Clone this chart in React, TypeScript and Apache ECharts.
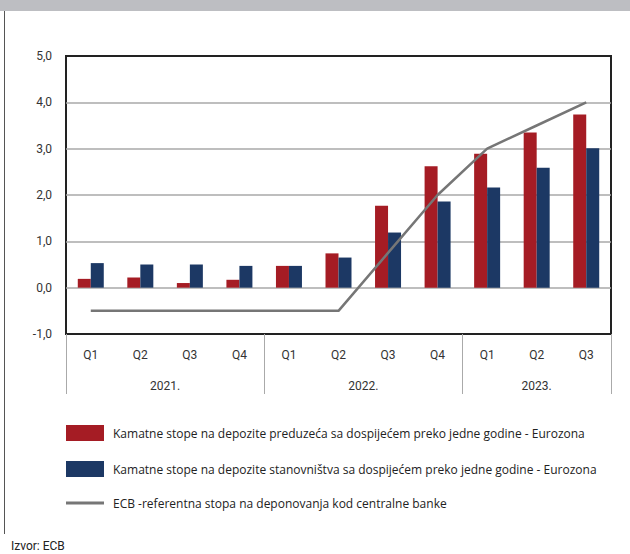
import React, { useEffect, useRef } from "react";
import * as echarts from "echarts";

const quarters = ["Q1", "Q2", "Q3", "Q4", "Q1", "Q2", "Q3", "Q4", "Q1", "Q2", "Q3"];
const years = ["2021.", "2022.", "2023."];
const quartersPerYear = [4, 4, 3];
const corporateDeposits = [0.19, 0.22, 0.1, 0.17, 0.47, 0.74, 1.77, 2.62, 2.89, 3.35, 3.74];
const householdDeposits = [0.53, 0.5, 0.5, 0.47, 0.47, 0.65, 1.19, 1.86, 2.16, 2.59, 3.01];
const ecbRate = [-0.5, -0.5, -0.5, -0.5, -0.5, -0.5, 0.75, 2.0, 3.0, 3.5, 4.0];
const seriesNames = [
  "Kamatne stope na depozite preduzeća sa dospijećem preko jedne godine - Eurozona",
  "Kamatne stope na depozite stanovništva sa dospijećem preko jedne godine - Eurozona",
  "ECB -referentna stopa na deponovanja kod centralne banke",
];
const sourceText = "Izvor: ECB";

const FONT = "Roboto";
const LEGEND_FONT = "Open Sans";

export default function App() {
  const ref = useRef<HTMLDivElement>(null);
  useEffect(() => {
    if (!ref.current) return;
    const chart = echarts.init(ref.current, null, { renderer: "svg" });
    const bounds: number[] = [0];
    const centers: number[] = [];
    quartersPerYear.forEach((n) => {
      const start = bounds[bounds.length - 1];
      bounds.push(start + n);
      centers.push(start + n / 2);
    });
    chart.setOption({
      animation: false,
      textStyle: { fontFamily: FONT },
      grid: {
        left: 66,
        top: 56,
        right: 19,
        bottom: 220,
        show: true,
        borderColor: "#222",
        borderWidth: 2,
        backgroundColor: "transparent",
      },
      legend: {
        orient: "vertical",
        left: 66,
        top: 425,
        itemWidth: 38,
        itemHeight: 16,
        itemGap: 20,
        padding: 0,
        textStyle: { fontSize: 12, color: "#222", fontFamily: LEGEND_FONT, padding: [0, 0, 0, 4] },
        data: [
          { name: seriesNames[0], icon: "rect" },
          { name: seriesNames[1], icon: "rect" },
          { name: seriesNames[2], icon: "path://M0,0 L38,0 L38,3 L0,3 Z" },
        ],
      },
      xAxis: [
        {
          type: "category",
          data: quarters,
          axisLine: { show: false },
          axisTick: { show: false },
          axisLabel: { color: "#333", fontSize: 12, margin: 15, fontFamily: FONT },
        },
        {
          type: "value",
          min: 0,
          max: quarters.length,
          position: "bottom",
          axisLine: { show: false },
          splitLine: { show: false },
          axisTick: {
            show: true,
            customValues: bounds,
            length: 60,
            lineStyle: { color: "#aaa", width: 1 },
          },
          axisLabel: {
            customValues: centers,
            formatter: (v: number) => {
              const i = centers.indexOf(v);
              return i >= 0 ? years[i] : "";
            },
            color: "#333",
            fontSize: 12,
            margin: 46,
            fontFamily: FONT,
          },
        },
      ],
      yAxis: {
        type: "value",
        min: -1,
        max: 5,
        interval: 1,
        axisLine: { show: false },
        axisTick: { show: false },
        axisLabel: {
          color: "#333",
          fontSize: 12,
          margin: 14,
          fontFamily: FONT,
          formatter: (v: number) => v.toFixed(1).replace(".", ","),
        },
        splitLine: {
          show: true,
          showMinLine: false,
          showMaxLine: false,
          lineStyle: { color: "#a8a8a8", width: 1.5 },
        },
      },
      series: [
        {
          name: seriesNames[0],
          type: "bar",
          data: corporateDeposits,
          barWidth: 13,
          barGap: "0%",
          itemStyle: { color: "#a51c24" },
        },
        {
          name: seriesNames[1],
          type: "bar",
          data: householdDeposits,
          barWidth: 13,
          barGap: "0%",
          itemStyle: { color: "#1c3864" },
        },
        {
          name: seriesNames[2],
          type: "line",
          data: ecbRate,
          symbol: "none",
          lineStyle: { color: "#767676", width: 2.5 },
          itemStyle: { color: "#767676" },
        },
      ],
      graphic: [
        {
          type: "rect",
          shape: { x: 0, y: 0, width: 630, height: 11 },
          style: { fill: "#bdbec2" },
        },
        {
          type: "line",
          shape: { x1: 4.5, y1: 11, x2: 4.5, y2: 534 },
          style: { stroke: "#555", lineWidth: 1 },
        },
        {
          type: "text",
          x: 11,
          y: 546,
          style: {
            text: sourceText,
            fontSize: 12,
            fill: "#222",
            fontFamily: FONT,
            verticalAlign: "middle",
          },
        },
      ],
    });
    return () => chart.dispose();
  }, []);
  return (
    <div
      ref={ref}
      style={{ position: "fixed", left: 0, top: 0, width: 630, height: 554, background: "#fff" }}
    />
  );
}
